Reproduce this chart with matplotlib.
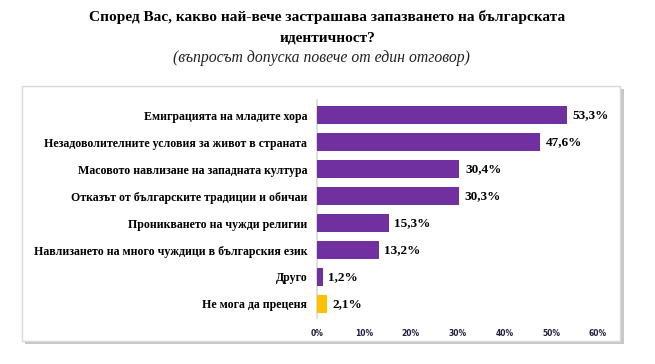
import matplotlib
matplotlib.use("Agg")
import matplotlib.pyplot as plt
from matplotlib.patches import Rectangle

# data
categories = [
    "Емиграцията на младите хора",
    "Незадоволителните условия за живот в страната",
    "Масовото навлизане на западната култура",
    "Отказът от българските традиции и обичаи",
    "Проникването на чужди религии",
    "Навлизането на много чуждици в българския език",
    "Друго",
    "Не мога да преценя",
]
values = [53.3, 47.6, 30.4, 30.3, 15.3, 13.2, 1.2, 2.1]
value_labels = ["53,3%", "47,6%", "30,4%", "30,3%", "15,3%", "13,2%", "1,2%", "2,1%"]
xticks = [0, 10, 20, 30, 40, 50, 60]
xtick_labels = ["0%", "10%", "20%", "30%", "40%", "50%", "60%"]

purple = "#7030A0"
yellow = "#FFC000"
colors = [purple] * 7 + [yellow]

W, H = 655, 364
fig = plt.figure(figsize=(W / 100, H / 100), dpi=100)

# frame with shadow
fig.patches.append(Rectangle((25 / W, 1 - 344 / H), 599 / W, 255 / H,
                             transform=fig.transFigure, facecolor="#c8c8c8",
                             edgecolor="none", zorder=0))
fig.patches.append(Rectangle((22 / W, 1 - 341 / H), 598 / W, 255 / H,
                             transform=fig.transFigure, facecolor="white",
                             edgecolor="#d9d9d9", linewidth=1, zorder=1))

ax = fig.add_axes([317 / W, 1 - 318 / H, (598 - 317) / W, 218 / H], zorder=2)
ax.patch.set_alpha(0)

y = list(range(len(categories)))
ax.barh(y, values, height=0.68, color=colors, zorder=3)
ax.set_xlim(0, 60)
ax.set_ylim(7.52, -0.56)

for yi, v, lab in zip(y, values, value_labels):
    ax.text(v + 1.2, yi, lab, va="center", ha="left", fontsize=9.5,
            fontweight="bold", family="Liberation Serif", color="black")

ax.set_yticks(y)
ax.set_yticklabels(categories, fontsize=8.6, fontweight="bold", family="Liberation Serif")
ax.set_xticks(xticks)
ax.set_xticklabels(xtick_labels, fontsize=5.5, fontweight="bold", family="DejaVu Sans",
                   color="#1f1f3f")
ax.tick_params(axis="y", length=0, pad=7)
ax.tick_params(axis="x", length=0, pad=8)
for s in ["top", "right", "bottom"]:
    ax.spines[s].set_visible(False)
ax.spines["left"].set_color("#d9d9d9")
ax.spines["left"].set_linewidth(1.2)

fig.text(0.5, 1 - 17 / H, "Според Вас, какво най-вече застрашава запазването на българската",
         ha="center", va="center", fontsize=11.1, fontweight="bold", family="Liberation Serif")
fig.text(0.5, 1 - 38 / H, "идентичност?", ha="center", va="center", fontsize=11.1,
         fontweight="bold", family="Liberation Serif")
fig.text(321 / W, 1 - 58 / H, "(въпросът допуска повече от един отговор)", ha="center",
         va="center", fontsize=11.3, style="italic", family="Liberation Serif",
         color="#222222")

fig.savefig("out.png", dpi=100)
